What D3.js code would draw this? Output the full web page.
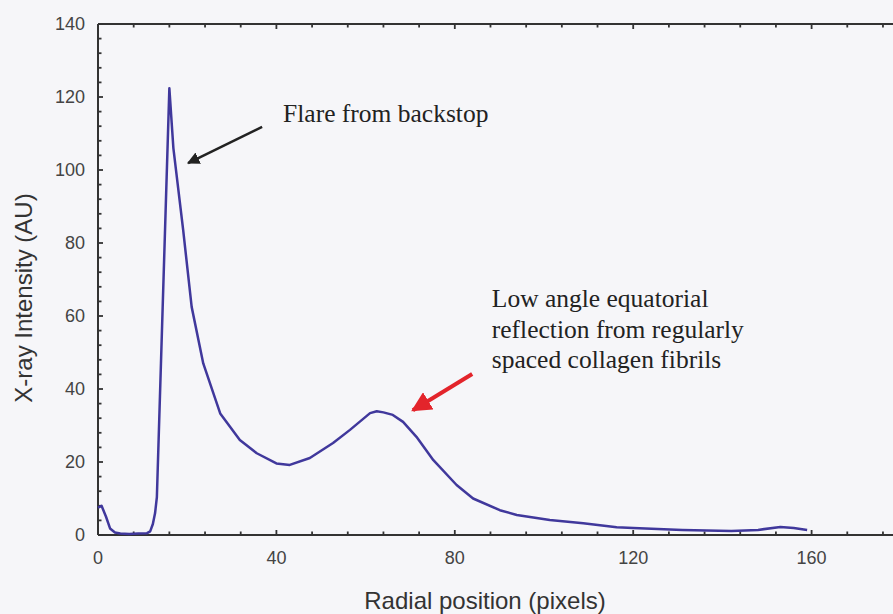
<!DOCTYPE html>
<html>
<head>
<meta charset="utf-8">
<script src="https://cdn.jsdelivr.net/npm/d3@7"></script>
<style>
  html, body { margin: 0; padding: 0; background: #f6f6f9; }
  svg { display: block; }
</style>
</head>
<body>
<svg id="chart" width="893" height="614"></svg>
<script>
// radial position (pixels) and intensity (AU)
const radialPos = [0, 0.8, 1.8, 2.7, 3.8, 5, 7, 9, 11, 11.7, 12.3, 12.8, 13.2, 16, 16.9, 19.1, 21, 23.6, 27.4, 31.8, 35.6, 40, 43, 47.5, 52.7, 56.5, 61, 62.5, 64, 66.1, 68.4, 71.4, 75.2, 80.4, 84.1, 90.1, 93.9, 101.3, 108.8, 116.3, 120, 131, 142, 148, 153, 156, 159];
const intensity = [7.5, 8, 5, 1.8, 0.7, 0.4, 0.3, 0.4, 0.5, 1, 3, 6, 10.4, 122.4, 106, 83.5, 62.5, 47, 33.3, 26, 22.4, 19.6, 19.2, 21.1, 25.2, 28.8, 33.4, 33.9, 33.6, 32.9, 31, 26.9, 20.5, 13.7, 10, 6.8, 5.5, 4.1, 3.2, 2.1, 1.9, 1.4, 1.1, 1.4, 2.2, 1.9, 1.4];

const xTicks = [0, 40, 80, 120, 160];
const yTicks = [0, 20, 40, 60, 80, 100, 120, 140];

const svg = d3.select('#chart');
const plotLeft = 98, plotTop = 24, plotBottom = 535;
const x = d3.scaleLinear().domain([0, 180]).range([plotLeft, plotLeft + 180 * 4.46]);
const y = d3.scaleLinear().domain([0, 140]).range([plotBottom, plotTop]);

const axisColor = '#333';

// frame lines (right edge falls outside the crop)
svg.append('line').attr('x1', x(0)).attr('x2', x(180)).attr('y1', y(0)).attr('y2', y(0))
    .attr('stroke', axisColor).attr('stroke-width', 2);
svg.append('line').attr('x1', x(0)).attr('x2', x(180)).attr('y1', y(140)).attr('y2', y(140))
    .attr('stroke', axisColor).attr('stroke-width', 2);
svg.append('line').attr('x1', x(0)).attr('x2', x(0)).attr('y1', y(0)).attr('y2', y(140))
    .attr('stroke', axisColor).attr('stroke-width', 2);

// ticks pointing inward
const xMinor = d3.range(0, 181, 8);
const yMinor = d3.range(0, 141, 4);

svg.append('g').selectAll('line').data(xMinor).enter().append('line')
    .attr('x1', d => x(d)).attr('x2', d => x(d))
    .attr('y1', y(0)).attr('y2', d => y(0) - (d % 40 === 0 ? 5 : 3.5))
    .attr('stroke', axisColor).attr('stroke-width', 1.8);
svg.append('g').selectAll('line').data(xMinor).enter().append('line')
    .attr('x1', d => x(d)).attr('x2', d => x(d))
    .attr('y1', y(140)).attr('y2', d => y(140) + (d % 40 === 0 ? 5 : 3.5))
    .attr('stroke', axisColor).attr('stroke-width', 1.8);
svg.append('g').selectAll('line').data(yMinor).enter().append('line')
    .attr('y1', d => y(d)).attr('y2', d => y(d))
    .attr('x1', x(0)).attr('x2', d => x(0) + (d % 20 === 0 ? 5 : 3.5))
    .attr('stroke', axisColor).attr('stroke-width', 1.8);

// tick labels
svg.append('g').selectAll('text').data(xTicks).enter().append('text')
    .attr('x', d => x(d)).attr('y', y(0) + 29)
    .attr('text-anchor', 'middle')
    .attr('font-family', 'Liberation Sans, Arial, sans-serif')
    .attr('font-size', 18).attr('fill', '#444')
    .text(d => d);
svg.append('g').selectAll('text').data(yTicks).enter().append('text')
    .attr('x', x(0) - 13).attr('y', d => y(d) + 6)
    .attr('text-anchor', 'end')
    .attr('font-family', 'Liberation Sans, Arial, sans-serif')
    .attr('font-size', 18).attr('fill', '#444')
    .text(d => d);

// axis titles
svg.append('text')
    .attr('transform', 'translate(32,298) rotate(-90)')
    .attr('text-anchor', 'middle')
    .attr('font-family', 'Liberation Sans, Arial, sans-serif')
    .attr('font-size', 24).attr('fill', '#333')
    .text('X-ray Intensity (AU)');
svg.append('text')
    .attr('x', 485).attr('y', 609)
    .attr('text-anchor', 'middle')
    .attr('font-family', 'Liberation Sans, Arial, sans-serif')
    .attr('font-size', 24).attr('fill', '#333')
    .text('Radial position (pixels)');

// the profile
const points = radialPos.map((r, i) => [r, intensity[i]]);
const line = d3.line().x(d => x(d[0])).y(d => y(d[1]));
svg.append('path')
    .datum(points)
    .attr('fill', 'none')
    .attr('stroke', '#40389c')
    .attr('stroke-width', 2.5)
    .attr('stroke-linejoin', 'round')
    .attr('d', line);

// annotations (data coordinates)
const defs = svg.append('defs');
function marker(id, color) {
    defs.append('marker')
        .attr('id', id).attr('viewBox', '0 0 10 10')
        .attr('refX', 9).attr('refY', 5)
        .attr('markerWidth', 5).attr('markerHeight', 5)
        .attr('markerUnits', 'strokeWidth')
        .attr('orient', 'auto')
        .append('path').attr('d', 'M0,0 L10,5 L0,10 Z').attr('fill', color);
}
marker('headBlack', '#222');
marker('headRed', '#e3242b');

svg.append('line')
    .attr('x1', x(36.8)).attr('y1', y(111.8)).attr('x2', x(20.2)).attr('y2', y(101.9))
    .attr('stroke', '#222').attr('stroke-width', 2.5)
    .attr('marker-end', 'url(#headBlack)');
svg.append('line')
    .attr('x1', x(83.9)).attr('y1', y(44.1)).attr('x2', x(70.6)).attr('y2', y(34.2))
    .attr('stroke', '#e3242b').attr('stroke-width', 4)
    .attr('marker-end', 'url(#headRed)');

const serif = 'Liberation Serif, Times New Roman, serif';
svg.append('text')
    .attr('x', x(41.5)).attr('y', y(113.2))
    .attr('font-family', serif).attr('font-size', 25.5).attr('fill', '#222')
    .text('Flare from backstop');

const note = ['Low angle equatorial', 'reflection from regularly', 'spaced collagen fibrils'];
svg.append('g').selectAll('text').data(note).enter().append('text')
    .attr('x', x(88.3)).attr('y', (d, i) => y(62.4) + i * 30.5)
    .attr('font-family', serif).attr('font-size', 25.5).attr('fill', '#222')
    .text(d => d);
</script>
</body>
</html>
